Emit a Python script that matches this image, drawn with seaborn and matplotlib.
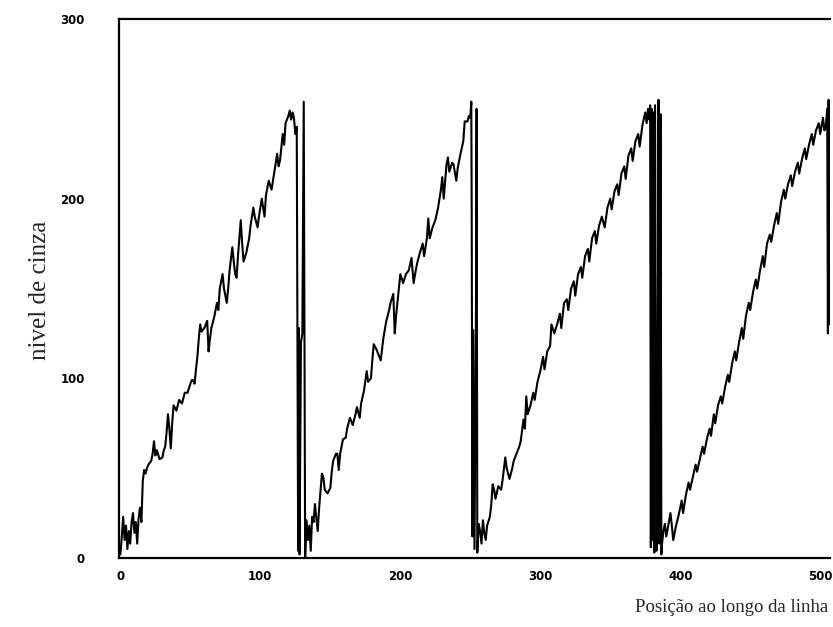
import matplotlib
matplotlib.use("Agg")
import matplotlib.pyplot as plt
import seaborn as sns
import pandas as pd

# Position along the line (pixels of the scan line) and grey level
posicao = [
    0, 1, 2, 3, 4, 5, 6, 7, 8, 9, 10, 11, 12, 13, 14, 15, 16, 17, 18, 19, 20, 22, 23, 24, 25, 26, 28, 30,
    31, 32, 33, 34, 35, 36, 37, 38, 40, 42, 44, 46, 48, 50, 51, 52, 53, 54, 55, 56, 57, 58, 60, 62, 63, 64,
    65, 67, 69, 70, 71, 73, 74, 76, 77, 78, 80, 81, 82, 83, 84, 86, 87, 88, 90, 92, 93, 95, 96, 98, 99, 101,
    102, 103, 104, 106, 108, 110, 112, 113, 114, 116, 117, 118, 120, 121, 122, 123, 124, 125, 126,
    127, 127.5, 128, 129, 130, 131, 132,
    133, 134, 135, 136, 137, 138, 139, 140, 141, 142, 144, 145, 146, 148, 150, 151, 152, 154, 155, 156, 157,
    159, 161, 162, 164, 166, 168, 169, 171, 172, 174, 176, 177, 179, 180, 181, 183, 185, 186, 188, 190, 192,
    193, 195, 196, 197, 199, 200, 202, 204, 206, 208, 209.5, 211, 212, 214, 216, 217, 219, 220, 221, 223,
    225, 227, 229, 230, 231, 233, 234, 235, 237, 238, 240, 241, 243, 245, 246, 248, 249, 250,
    250.7, 251, 251.5, 252, 253, 254, 254.5, 255,
    256, 257, 258, 259, 260, 261, 262, 264, 265, 266, 267, 268, 270, 272, 273, 275, 276, 278, 280, 281, 283,
    285, 286, 288, 289, 290, 291, 293, 295, 296, 298, 300, 302, 303, 305, 307, 308, 310, 312, 314, 315, 317,
    319, 320, 322, 324, 325, 327, 329, 330, 332, 334, 335, 337, 339, 340, 342, 344, 346, 348, 350, 351, 353,
    355, 356, 358, 360, 361, 363, 365, 366, 368, 370, 371, 373, 375, 376, 377, 378,
    378.5, 379, 379.5, 380, 381, 381.5, 382, 382.5, 383, 384, 384.5, 385, 386, 386.5,
    387, 388, 389, 390, 391, 393, 394, 395, 397, 398.6, 400, 401, 402, 404, 406, 407, 409, 411, 412, 414, 416,
    417, 419, 421, 422, 424, 425, 427, 429, 430, 432, 434, 435, 437, 439, 440, 442, 444, 445, 447, 449, 450,
    452, 454, 455, 457, 459, 460, 462, 464, 465, 467, 469, 470, 472, 474, 475, 477, 479, 480, 482, 484, 485,
    487, 489, 490, 492, 494, 495, 497, 499, 500, 502, 503, 504,
    505, 505.5, 506, 506.5,
]
nivel = [
    2, 12, 23, 10, 18, 5, 15, 8, 20, 25, 14, 20, 8, 22, 28, 20, 43, 49, 47, 50, 52, 54, 58, 65, 57, 60, 55, 56,
    60, 62, 70, 80, 72, 61, 75, 85, 82, 88, 86, 92, 92, 97, 99, 99, 97, 105, 112, 122, 130, 126, 128, 132, 115, 122,
    128, 134, 142, 138, 150, 158, 150, 142, 150, 160, 173, 165, 158, 156, 168, 188, 175, 165, 170, 178, 185, 195, 190, 184, 190, 200,
    195, 190, 202, 210, 205, 215, 225, 218, 221, 236, 230, 242, 246, 249, 244, 248, 245, 236, 240,
    4, 128, 2, 120, 125, 254, 0,
    21, 10, 18, 4, 23, 20, 30, 22, 15, 28, 47, 45, 38, 36, 39, 48, 54, 58, 58, 49, 58,
    66, 67, 72, 78, 74, 80, 84, 78, 86, 93, 104, 98, 100, 110, 119, 116, 112, 110, 123, 132, 138,
    142, 147, 125, 135, 150, 158, 153, 158, 160, 167, 153, 160, 164, 170, 175, 168, 178, 189, 178, 184,
    188, 195, 205, 212, 200, 219, 223, 215, 220, 219, 210, 217, 225, 232, 243, 243, 246, 245,
    254, 193, 12, 127, 5, 130, 250, 3,
    19, 15, 8, 21, 14, 10, 18, 23, 30, 41, 38, 33, 40, 38, 43, 56, 50, 44, 50, 54, 58,
    62, 65, 77, 72, 90, 80, 85, 92, 88, 98, 104, 112, 105, 115, 118, 130, 125, 130, 136, 128, 142,
    144, 138, 150, 154, 146, 158, 162, 156, 168, 172, 165, 178, 182, 175, 185, 190, 184, 195, 200, 194, 204,
    208, 202, 214, 218, 211, 224, 228, 221, 232, 236, 229, 241, 248, 242, 250, 244,
    252, 6, 250, 10, 248, 3, 252, 128, 4, 125, 255, 8, 247, 2,
    8, 15, 19, 12, 16, 25, 18, 10, 18, 23, 28, 32, 25, 35, 42, 38, 45, 52, 48, 55, 62,
    58, 66, 72, 68, 80, 75, 85, 90, 86, 95, 102, 98, 108, 115, 110, 120, 128, 122, 135, 142, 138,
    148, 155, 150, 160, 168, 162, 175, 180, 176, 185, 192, 186, 198, 205, 200, 208, 213, 207, 215, 220, 214,
    222, 228, 222, 230, 236, 230, 238, 242, 236, 245, 238, 240,
    250, 125, 255, 130,
]
x_ticks = [0, 100, 200, 300, 400, 500]
y_ticks = [0, 100, 200, 300]

df = pd.DataFrame({"posicao": posicao, "nivel": nivel})

sns.set_theme(style="white")
plt.rcParams["font.family"] = ["DejaVu Sans"]

fig = plt.figure(figsize=(8.33, 6.27), dpi=100)
ax = fig.add_axes([119 / 833, 1 - 558 / 627, (830 - 119) / 833, (558 - 19) / 627])

sns.lineplot(data=df, x="posicao", y="nivel", ax=ax, color="black", linewidth=1.5,
             estimator=None, sort=False)

ax.set_xlim(-1, 507)
ax.set_ylim(0, 300)
ax.set_xticks(x_ticks)
ax.set_yticks(y_ticks)
ax.set_xticklabels([str(v) for v in x_ticks], fontsize=8.5, fontweight="bold")
ax.set_yticklabels([str(v) for v in y_ticks], fontsize=8.5, fontweight="bold")
ax.tick_params(axis="x", direction="inout", length=5, width=1.2, pad=6, colors="black")
ax.tick_params(axis="y", direction="inout", length=5, width=1.2, pad=22, colors="black")

for side in ["left", "bottom", "top"]:
    ax.spines[side].set_visible(True)
    ax.spines[side].set_color("black")
    ax.spines[side].set_linewidth(1.6)
ax.spines["right"].set_visible(False)

ax.set_xlabel("")
ax.set_ylabel("")
fig.text(828 / 833, 1 - 608 / 627, "Posição ao longo da linha", ha="right", va="center",
         fontsize=13.5, family=["Liberation Serif"])
fig.text(40 / 833, 1 - 290 / 627, "nivel de cinza", ha="center", va="center", rotation=90,
         fontsize=18, family=["Liberation Serif"])

fig.savefig("out.png", dpi=100, facecolor="white")
